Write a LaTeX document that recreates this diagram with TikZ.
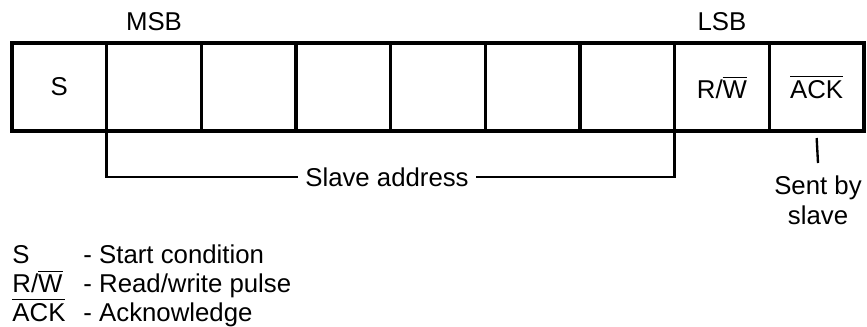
\documentclass[tikz,border=0pt]{standalone}
\usepackage{fontspec}
\setmainfont{Liberation Sans}
\usetikzlibrary{positioning}
\newcommand{\ovl}[1]{$\overline{\mbox{#1}}$}

\begin{document}
\begin{tikzpicture}[x=0.015cm, y=-0.015cm, font=\fontsize{11}{12.8}\selectfont, bit/.style={draw, line width=1.3pt, minimum width=1.42cm, minimum height=1.32cm, inner sep=0pt, outer sep=0pt},key/.style={inner sep=0pt, anchor=base west}]
\useasboundingbox (0,0) rectangle (867,326);
\node[bit] (s) at (59.3,87) {S};
\node[bit, right=0pt of s] (a6) {};
\node[bit, right=0pt of a6] (a5) {};
\node[bit, right=0pt of a5] (a4) {};
\node[bit, right=0pt of a4] (a3) {};
\node[bit, right=0pt of a3] (a2) {};
\node[bit, right=0pt of a2] (a1) {};
\node[bit, right=0pt of a1] (rw) {R/\ovl{W}};
\node[bit, right=0pt of rw] (ack) {\ovl{ACK}};
\draw[line width=1.7pt] (s.north west) rectangle (ack.south east);
\node (msb) at ([yshift=0.32cm]a6.north) {MSB};
\node (lsb) at ([yshift=0.32cm]rw.north) {LSB};
\node[inner xsep=3pt] (saddr) at (387,177) {Slave address};
\draw[line width=1pt] (a6.south west) |- (saddr.west);
\draw[line width=1pt] (saddr.east) -| (a1.south east);
\node[align=center, anchor=north, inner sep=0pt] (sent) at (818,175) {Sent by\\slave};
\draw[line width=1pt] ([yshift=-0.105cm]ack.south) -- ([yshift=0.18cm]sent.north);
\node[key] (ks) at (12,263) {S};
\node[key] (krw) at (12,292) {R/\ovl{W}};
\node[key] (kack) at (12,321) {\ovl{ACK}};
\node[key] (ds) at (83,263) {- Start condition};
\node[key] (drw) at (83,292) {- Read/write pulse};
\node[key] (dack) at (83,321) {- Acknowledge};
\end{tikzpicture}
\end{document}
